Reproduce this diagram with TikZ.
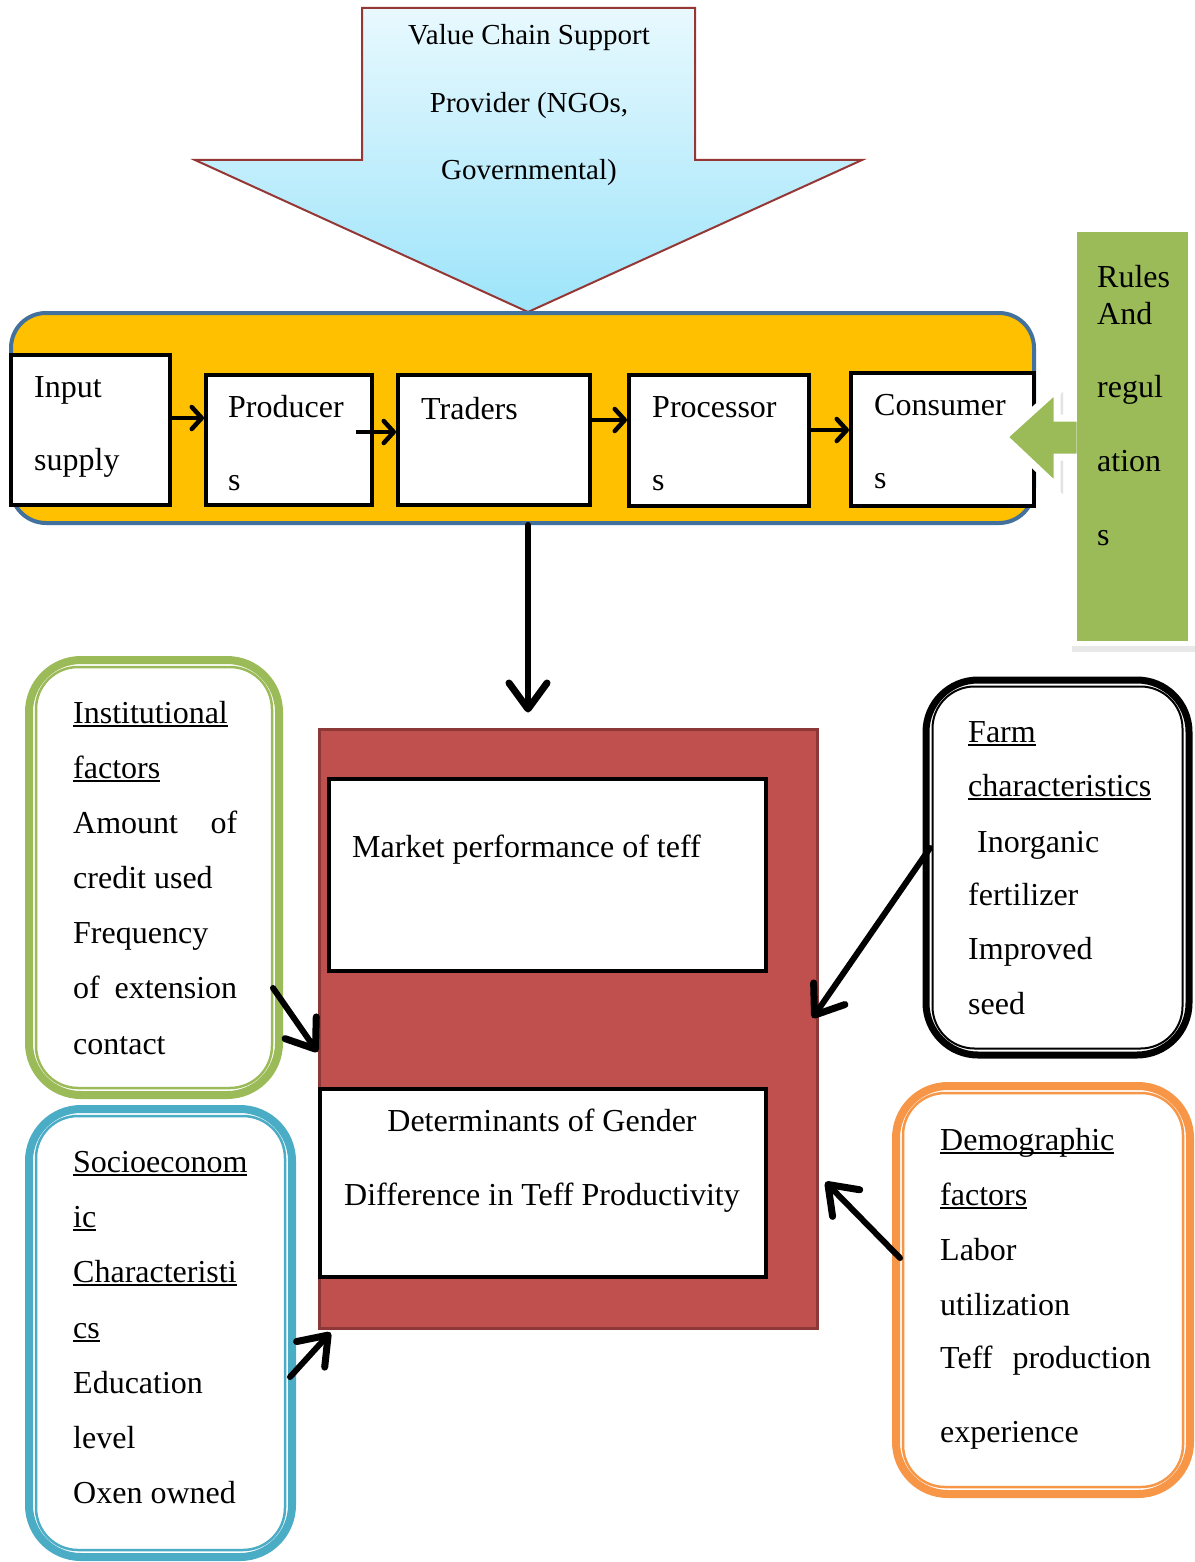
\documentclass[tikz,border=0pt]{standalone}
\usepackage{fontspec}
\setmainfont{Liberation Serif}
\usetikzlibrary{arrows.meta,calc}
\definecolor{arrowTop}{HTML}{E8F9FE}
\definecolor{arrowBot}{HTML}{9DE4FA}
\definecolor{arrowLine}{HTML}{953735}
\definecolor{chainFill}{HTML}{FFC000}
\definecolor{chainLine}{HTML}{41719C}
\definecolor{redFill}{HTML}{C0504D}
\definecolor{redLine}{HTML}{8C3836}
\definecolor{greenF}{HTML}{9BBB59}
\definecolor{blueF}{HTML}{4BACC6}
\definecolor{orangeF}{HTML}{F79646}
\newsavebox\ulbox
\newcommand\myul[1]{\sbox\ulbox{#1}\rlap{\rule[-4pt]{\wd\ulbox}{2pt}}\usebox\ulbox}
\newcommand\mainsize{\fontsize{32}{38}\selectfont}
\newcommand\arrsize{\fontsize{29}{34}\selectfont}
\begin{document}
\begin{tikzpicture}[x=1pt,y=-1pt,
  txt/.style={anchor=base west, inner sep=0, font=\mainsize},
  ctxt/.style={anchor=base, inner sep=0, font=\mainsize},
  atxt/.style={anchor=base, inner sep=0, font=\arrsize},
  chainbox/.style={draw=black, fill=white, line width=4pt, inner sep=0},
  chainarr/.style={line width=4pt, -{Straight Barb[length=10pt,width=22pt,line width=4.5pt,round]}},
  bigarr/.style={line width=6pt, line cap=round, -{Straight Barb[length=26pt,width=38pt,line width=7pt,round]}},
  factorbox/.style={line width=8pt, rounded corners=52pt, fill=white, inner sep=0},
  innerline/.style={line width=2.5pt, rounded corners=42pt},
]
\useasboundingbox (0,0) rectangle (1194,1562);
\fill[white] (0,0) rectangle (1194,1562);

% ---------- top support arrow ----------
\path[top color=arrowTop, bottom color=arrowBot, draw=arrowLine, line width=2pt, line join=miter]
  (362,8) -- (695,8) -- (695,160) -- (862,160) -- (528,312) -- (195,160) -- (362,160) -- cycle;
\node[atxt] (vc1) at (529,45) {Value Chain Support};
\node[atxt] (vc2) at (529,113) {Provider (NGOs,};
\node[atxt] (vc3) at (529,180) {Governmental)};

% ---------- value chain ----------
\node[draw=chainLine, fill=chainFill, line width=4pt, rounded corners=35pt, inner sep=0,
      minimum width=1023pt, minimum height=210pt] (chain) at (522.5,418) {};
\node[chainbox, minimum width=159pt, minimum height=150pt] (inp) at (90.5,430) {};
\node[chainbox, minimum width=166pt, minimum height=130pt] (prod) at (289,440) {};
\node[chainbox, minimum width=192pt, minimum height=130pt] (trad) at (494,440) {};
\node[chainbox, minimum width=180pt, minimum height=131pt] (proc) at (719,440.5) {};
\node[chainbox, minimum width=183pt, minimum height=133pt] (cons) at (942.5,439.5) {};

\node[txt] (t-inp1) at (34,397) {Input};
\node[txt] (t-inp2) at (34,470) {supply};
\node[txt] (t-prod1) at (228,417) {Producer};
\node[txt] (t-prod2) at (228,490) {s};
\node[txt] (t-trad) at (421,419) {Traders};
\node[txt] (t-proc1) at (652,417) {Processor};
\node[txt] (t-proc2) at (652,490) {s};
\node[txt] (t-cons1) at (874,415) {Consumer};
\node[txt] (t-cons2) at (874,488) {s};

\coordinate (y418) at (0,418);
\coordinate (p2s) at (356,432);
\coordinate (y420) at (0,420);
\coordinate (y430) at (0,430);
\draw[chainarr] (inp.east |- y418) -- (prod.west |- y418);
\draw[chainarr] (p2s) -- (trad.west |- p2s);
\draw[chainarr] (trad.east |- y420) -- (proc.west |- y420);
\draw[chainarr] (proc.east |- y430) -- (cons.west |- y430);

% ---------- rules and regulations ----------
\fill[gray!18] (1072,229) rectangle (1196,652);
\fill[white] (1068,224) rectangle (1196,646);
\fill[gray!22] (1009,442) -- (1063,392) -- (1063,494) -- cycle;
\filldraw[fill=greenF, draw=white, line width=7pt, line join=miter]
  (1004,437) -- (1057,389) -- (1057,418) -- (1080,418) -- (1080,457) -- (1057,457) -- (1057,487) -- cycle;
\node[fill=greenF, minimum width=111pt, minimum height=409pt, inner sep=0] (rules) at (1132.5,436.5) {};
\node[txt] (r1) at (1097,287) {Rules};
\node[txt] (r2) at (1097,324) {And};
\node[txt] (r3) at (1097,397) {regul};
\node[txt] (r4) at (1097,471) {ation};
\node[txt] (r5) at (1097,545) {s};

% ---------- central red block ----------
\node[draw=redLine, fill=redFill, line width=3pt, inner sep=0,
      minimum width=498pt, minimum height=599pt] (red) at (568,1028.5) {};
\node[chainbox, minimum width=437pt, minimum height=192pt] (market) at (547.5,875) {};
\node[chainbox, minimum width=446pt, minimum height=188pt] (det) at (543,1183) {};
\node[txt] (t-market) at (352,857) {Market performance of teff};
\node[ctxt] (t-det1) at (542,1131) {Determinants of Gender};
\node[ctxt] (t-det2) at (542,1205) {Difference in Teff Productivity};

% ---------- factor boxes ----------
\node[factorbox, draw=greenF, minimum width=250pt, minimum height=435pt] (inst) at (154,877.5) {};
\draw[innerline, greenF] ([shift={(11,11)}]inst.north west) rectangle ([shift={(-11,-11)}]inst.south east);
\node[factorbox, draw=black, line width=7pt, minimum width=263pt, minimum height=375pt] (farm) at (1057.5,867.5) {};
\draw[innerline, black, line width=2pt] ([shift={(10,10)}]farm.north west) rectangle ([shift={(-10,-10)}]farm.south east);
\node[factorbox, draw=blueF, minimum width=263pt, minimum height=448pt] (socio) at (160.5,1333) {};
\draw[innerline, blueF] ([shift={(11,11)}]socio.north west) rectangle ([shift={(-11,-11)}]socio.south east);
\node[factorbox, draw=orangeF, minimum width=294pt, minimum height=408pt] (demo) at (1043,1290) {};
\draw[innerline, orangeF] ([shift={(11,11)}]demo.north west) rectangle ([shift={(-11,-11)}]demo.south east);

% institutional text
\node[txt] (i1) at (73,723) {\myul{Institutional}};
\node[txt] (i2) at (73,778) {\myul{factors}};
\node[txt] (i3) at (73,833) {\hbox to 164pt{Amount\hfill of}};
\node[txt] (i4) at (73,888) {credit used};
\node[txt] (i5) at (73,943) {Frequency};
\node[txt] (i6) at (73,998) {\hbox to 164pt{of\hfill extension}};
\node[txt] (i7) at (73,1054) {contact};

% farm text
\node[txt] (f1) at (968,742) {\myul{Farm}};
\node[txt] (f2) at (968,796) {\myul{characteristics}};
\node[txt] (f3) at (977,852) {Inorganic};
\node[txt] (f4) at (968,905) {fertilizer};
\node[txt] (f5) at (968,959) {Improved};
\node[txt] (f6) at (968,1014) {seed};

% socioeconomic text
\node[txt] (s1) at (73,1172) {\myul{Socioeconom}};
\node[txt] (s2) at (73,1227) {\myul{ic}};
\node[txt] (s3) at (73,1282) {\myul{Characteristi}};
\node[txt] (s4) at (73,1338) {\myul{cs}};
\node[txt] (s5) at (73,1393) {Education};
\node[txt] (s6) at (73,1448) {level};
\node[txt] (s7) at (73,1503) {Oxen owned};

% demographic text
\node[txt] (d1) at (940,1150) {\myul{Demographic}};
\node[txt] (d2) at (940,1205) {\myul{factors}};
\node[txt] (d3) at (940,1260) {Labor};
\node[txt] (d4) at (940,1315) {utilization};
\node[txt] (d5) at (940,1368) {\hbox to 211pt{Teff\hfill production}};
\node[txt] (d6) at (940,1442) {experience};

% ---------- arrows ----------
\coordinate (vx) at (528,0);
\draw[bigarr] (chain.south -| vx) -- ($(red.north -| vx)+(0,-15)$);

\coordinate (ia) at (273,988);
\coordinate (ib) at (0,1052);
\draw[bigarr] (ia) -- (red.west |- ib);

\coordinate (fa) at (930,848);
\coordinate (fb) at (0,1018);
\draw[bigarr] (fa) -- ($(red.east |- fb)+(-6,0)$);

\coordinate (sa) at (290,1377);
\draw[bigarr] (sa) -- ($(red.south west)+(13,3)$);

\coordinate (da) at (900,1258);
\coordinate (db) at (0,1182);
\draw[bigarr] (da) -- ($(red.east |- db)+(7,0)$);
\end{tikzpicture}
\end{document}
